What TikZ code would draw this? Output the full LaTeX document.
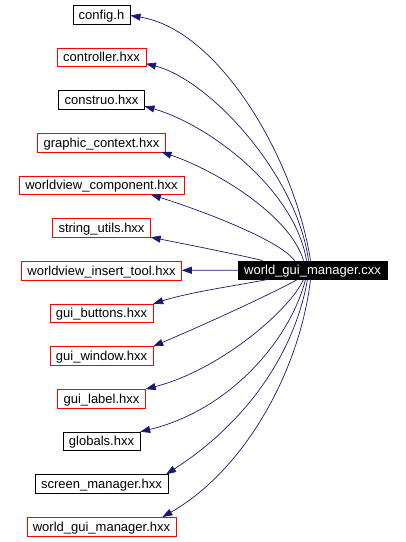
\documentclass[tikz,border=0pt]{standalone}
\usepackage{fontspec}
\setmainfont{Liberation Sans}
\usetikzlibrary{arrows.meta}
\definecolor{edgeblue}{HTML}{191970}

\begin{document}
\begin{tikzpicture}
  [x=1pt,y=1pt,
   every node/.style={rectangle,draw=black,fill=white,font=\fontsize{13}{15}\selectfont,
     inner xsep=6pt,inner ysep=0pt,minimum height=18.5pt,text height=10.5pt,text depth=1.5pt},
   redbox/.style={draw=red},
   mainbox/.style={fill=black,text=white},
   dep/.style={edgeblue,line width=.7pt,-{Triangle[length=10pt,width=7pt]}}]
  \useasboundingbox (0,0) rectangle (406,-542);
  \node (cfg) at (101.5,-14.5) {config.h};
  \node[redbox] (ctrl) at (101.5,-57.2) {controller.hxx};
  \node (constr) at (101.5,-99.8) {construo.hxx};
  \node[redbox] (gctx) at (101.5,-142.5) {graphic\_context.hxx};
  \node[redbox] (wvc) at (101.5,-185.2) {worldview\_component.hxx};
  \node[redbox] (sutil) at (101.5,-227.8) {string\_utils.hxx};
  \node[redbox] (wit) at (101.5,-270.5) {worldview\_insert\_tool.hxx};
  \node[redbox] (gbtn) at (101.5,-313.2) {gui\_buttons.hxx};
  \node[redbox] (gwin) at (101.5,-355.8) {gui\_window.hxx};
  \node[redbox] (glbl) at (101.5,-398.5) {gui\_label.hxx};
  \node (glob) at (101.5,-441.2) {globals.hxx};
  \node (scr) at (101.5,-483.8) {screen\_manager.hxx};
  \node[redbox] (wgmh) at (101.5,-526.5) {world\_gui\_manager.hxx};
  \node[mainbox] (main) at (312.5,-270) {world\_gui\_manager.cxx};
  % includes
  \draw[dep] ([xshift=-2pt]main.north) .. controls (295,-160) and (220,-30) .. ([yshift=-1pt]cfg.east);
  \draw[dep] ([xshift=-4pt]main.north) .. controls (297,-175) and (210,-80) .. ([yshift=3pt]ctrl.south east);
  \draw[dep] ([xshift=-6pt]main.north) .. controls (295,-190) and (210,-125) .. ([yshift=3pt]constr.south east);
  \draw[dep] ([xshift=-9pt]main.north) .. controls (290,-215) and (215,-170) .. ([xshift=-4pt]gctx.south east);
  \draw[dep] ([xshift=-18pt]main.north) .. controls (280,-240) and (200,-210) .. ([xshift=-33pt]wvc.south east);
  \draw[dep] ([xshift=-50pt]main.north) .. controls (240,-255) and (190,-245) .. (sutil.south east);
  \draw[dep] (main) -- (wit);
  \draw[dep] ([xshift=-45pt]main.south) .. controls (240,-285) and (190,-292) .. (gbtn.north east);
  \draw[dep] ([xshift=-15pt]main.south) .. controls (275,-292) and (215,-320) .. (gwin.north east);
  \draw[dep] ([xshift=-9pt]main.south) .. controls (290,-310) and (220,-370) .. (glbl.north east);
  \draw[dep] ([xshift=-7pt]main.south) .. controls (290,-340) and (230,-410) .. (glob.north east);
  \draw[dep] ([xshift=-5pt]main.south) .. controls (295,-350) and (250,-420) .. ([xshift=-2pt]scr.north east);
  \draw[dep] ([xshift=-2pt]main.south) .. controls (300,-370) and (245,-470) .. ([xshift=-14pt]wgmh.north east);
\end{tikzpicture}
\end{document}
